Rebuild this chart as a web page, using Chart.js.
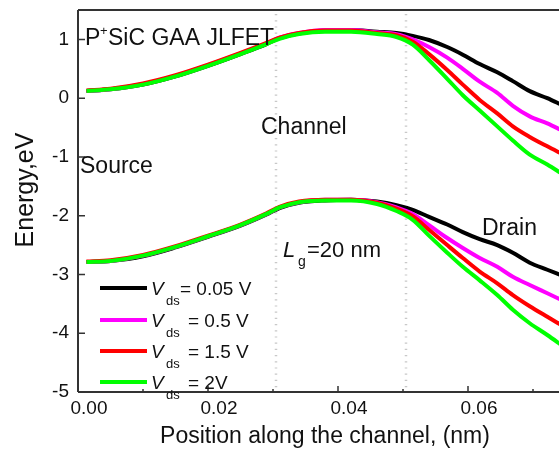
<!DOCTYPE html>
<html lang="en">
<head>
  <meta charset="UTF-8" />
  <title>P+SiC GAA JLFET band diagram</title>
  <script src="https://cdn.jsdelivr.net/npm/chart.js"></script>
  <style>
    html, body { margin: 0; padding: 0; background: #fff; }
    canvas { display: block; }
  </style>
</head>
<body>
  <canvas id="bandChart" width="559" height="453"></canvas>

  <script>
    // position along the channel (nm) where the curves were read
    const positionNm = [0.0013, 0.005, 0.010, 0.015, 0.020, 0.025, 0.029, 0.031, 0.034, 0.038, 0.042, 0.046,
                        0.049, 0.0515, 0.054, 0.0568, 0.0592, 0.0618, 0.0645, 0.0669, 0.0695, 0.0722, 0.0745];

    // upper band (eV)
    const upper005 = [0.12, 0.15, 0.23, 0.37, 0.55, 0.75, 0.92, 1.02, 1.10, 1.15, 1.16, 1.13,
                      1.11, 1.06, 0.99, 0.87, 0.74, 0.58, 0.44, 0.29, 0.12, 0.00, -0.12];
    const upper05  = [0.12, 0.15, 0.24, 0.38, 0.56, 0.76, 0.93, 1.03, 1.11, 1.16, 1.16, 1.12,
                      1.09, 1.00, 0.87, 0.69, 0.50, 0.28, 0.09, -0.13, -0.31, -0.43, -0.55];
    const upper15  = [0.13, 0.16, 0.25, 0.39, 0.57, 0.77, 0.94, 1.03, 1.11, 1.15, 1.15, 1.11,
                      1.07, 0.96, 0.75, 0.48, 0.23, -0.03, -0.26, -0.48, -0.66, -0.82, -0.95];
    const upper2   = [0.12, 0.15, 0.23, 0.37, 0.55, 0.75, 0.92, 1.01, 1.09, 1.13, 1.13, 1.09,
                      1.04, 0.91, 0.65, 0.33, 0.05, -0.21, -0.48, -0.72, -0.96, -1.13, -1.29];

    // lower band (eV)
    const lower005 = [-2.79, -2.77, -2.69, -2.54, -2.36, -2.17, -1.98, -1.87, -1.78, -1.74, -1.73, -1.76,
                      -1.82, -1.90, -2.02, -2.15, -2.28, -2.40, -2.50, -2.63, -2.80, -2.92, -3.02];
    const lower05  = [-2.79, -2.77, -2.68, -2.53, -2.35, -2.16, -1.97, -1.86, -1.77, -1.73, -1.73, -1.77,
                      -1.86, -1.97, -2.16, -2.38, -2.55, -2.72, -2.87, -3.04, -3.18, -3.32, -3.44];
    const lower15  = [-2.78, -2.76, -2.67, -2.52, -2.34, -2.15, -1.96, -1.85, -1.76, -1.73, -1.73, -1.78,
                      -1.88, -2.01, -2.24, -2.50, -2.72, -2.95, -3.15, -3.35, -3.54, -3.72, -3.87];
    const lower2   = [-2.79, -2.77, -2.68, -2.53, -2.35, -2.16, -1.97, -1.86, -1.77, -1.74, -1.74, -1.80,
                      -1.92, -2.07, -2.34, -2.63, -2.87, -3.10, -3.35, -3.60, -3.83, -4.03, -4.21];

    const vdsLabels = ['= 0.05 V', '= 0.5 V', '= 1.5 V', '= 2V'];
    const vdsColors = ['#000000', '#ff00ff', '#ff0000', '#00ff00'];
    const upperSets = [upper005, upper05, upper15, upper2];
    const lowerSets = [lower005, lower05, lower15, lower2];
    const xTicks = [0, 0.02, 0.04, 0.06];
    const yTicks = [-5, -4, -3, -2, -1, 0, 1];
    const regionBounds = [0.0305, 0.0505];   // source/channel/drain borders

    const FONT = "'Liberation Sans', Arial, sans-serif";

    const toPoints = ys => ys.map((y, i) => ({ x: positionNm[i], y }));

    const datasets = [];
    vdsColors.forEach((c, i) => {
      [upperSets[i], lowerSets[i]].forEach(ys => {
        datasets.push({
          data: toPoints(ys),
          borderColor: c,
          borderWidth: 4,
          pointRadius: 0,
          fill: false,
          cubicInterpolationMode: 'monotone',
          order: 3 - i   // green ends up on top
        });
      });
    });

    const decor = {
      id: 'decor',
      beforeDatasetsDraw(chart) {
        const { ctx, chartArea: a, scales: { x } } = chart;
        ctx.save();
        ctx.strokeStyle = '#c8c8c8';
        ctx.lineWidth = 2.5;
        ctx.setLineDash([1.2, 5]);
        regionBounds.forEach(v => {
          const px = Math.round(x.getPixelForValue(v));
          ctx.beginPath();
          ctx.moveTo(px, a.top + 4);
          ctx.lineTo(px, a.bottom);
          ctx.stroke();
        });
        ctx.restore();
      },
      afterDraw(chart) {
        const { ctx, chartArea: a, scales: { x, y } } = chart;
        ctx.save();

        // frame + inward ticks
        ctx.strokeStyle = '#333';
        ctx.lineWidth = 2;
        ctx.beginPath();
        ctx.moveTo(a.left, a.top); ctx.lineTo(a.right, a.top);
        ctx.moveTo(a.left, a.top); ctx.lineTo(a.left, a.bottom);
        ctx.moveTo(a.left, a.bottom); ctx.lineTo(a.right, a.bottom);
        ctx.stroke();

        ctx.lineWidth = 1.5;
        ctx.beginPath();
        for (let k = 1; k <= 7; k++) {
          const px = x.getPixelForValue(k * 0.01);
          const len = k % 2 === 0 ? 6 : 3;
          ctx.moveTo(px, a.bottom); ctx.lineTo(px, a.bottom - len);
        }
        yTicks.forEach(v => {
          const py = y.getPixelForValue(v);
          ctx.moveTo(a.left, py); ctx.lineTo(a.left + 7, py);
        });
        ctx.stroke();

        ctx.fillStyle = '#111';
        ctx.textBaseline = 'alphabetic';
        ctx.textAlign = 'left';

        // P+SiC GAA JLFET
        ctx.font = '23px ' + FONT;
        ctx.fillText('P', 85, 45);
        ctx.font = '13px ' + FONT;
        ctx.fillText('+', 100, 35);
        ctx.font = '23px ' + FONT;
        ctx.fillText('SiC GAA JLFET', 108, 45);

        ctx.fillText('Channel', 261, 134);
        ctx.fillText('Source', 80, 173);
        ctx.fillText('Drain', 482, 235);

        // Lg = 20 nm
        ctx.font = 'italic 22px ' + FONT;
        ctx.fillText('L', 283, 257);
        ctx.font = '14px ' + FONT;
        ctx.fillText('g', 298, 266);
        ctx.font = '22px ' + FONT;
        ctx.fillText('=20 nm', 307, 257);

        // legend
        const rows = [288, 320, 351, 382];
        rows.forEach((ry, i) => {
          ctx.strokeStyle = vdsColors[i];
          ctx.lineWidth = 4;
          ctx.beginPath();
          ctx.moveTo(100, ry); ctx.lineTo(147, ry);
          ctx.stroke();
          ctx.fillStyle = '#111';
          ctx.font = 'italic 19px ' + FONT;
          ctx.fillText('V', 151, ry + 7);
          ctx.font = '13px ' + FONT;
          ctx.fillText('ds', 166, ry + 17);
          ctx.font = '19px ' + FONT;
          ctx.fillText(vdsLabels[i], i === 0 ? 180 : 188, ry + 7);
        });

        // axis titles
        ctx.font = '23px ' + FONT;
        ctx.textAlign = 'center';
        ctx.fillText('Position along the channel, (nm)', 325, 443);

        ctx.translate(26, 190);
        ctx.rotate(-Math.PI / 2);
        ctx.font = '25px ' + FONT;
        ctx.textBaseline = 'middle';
        ctx.fillText('Energy,eV', 0, 0);

        ctx.restore();
      }
    };

    const near = (v, list) => list.some(t => Math.abs(t - v) < 1e-9);

    new Chart(document.getElementById('bandChart'), {
      type: 'line',
      data: { datasets },
      options: {
        responsive: false,
        animation: false,
        devicePixelRatio: 1,
        layout: { padding: { top: 10, right: 0, left: 0, bottom: 0 } },
        plugins: { legend: { display: false }, tooltip: { enabled: false } },
        scales: {
          x: {
            type: 'linear',
            min: 0,
            max: 0.074,
            grid: { display: false, drawTicks: false },
            border: { display: false },
            afterBuildTicks: s => { s.ticks = s.ticks.filter(t => near(t.value, xTicks)); },
            afterFit: s => { s.height = 61; s.paddingLeft = 0; s.paddingRight = 0; },
            ticks: {
              stepSize: 0.02,
              autoSkip: false,
              maxRotation: 0,
              labelOffset: 11,
              padding: 5,
              color: '#111',
              font: { family: FONT, size: 19 },
              callback: v => Number(v).toFixed(2)
            }
          },
          y: {
            min: -5,
            max: 1.5,
            grid: { display: false, drawTicks: false },
            border: { display: false },
            afterBuildTicks: s => { s.ticks = s.ticks.filter(t => near(t.value, yTicks)); },
            afterFit: s => { s.width = 78; s.paddingTop = 0; s.paddingBottom = 0; },
            ticks: {
              stepSize: 1,
              padding: 9,
              color: '#111',
              font: { family: FONT, size: 19 }
            }
          }
        }
      },
      plugins: [decor]
    });
  </script>
</body>
</html>
